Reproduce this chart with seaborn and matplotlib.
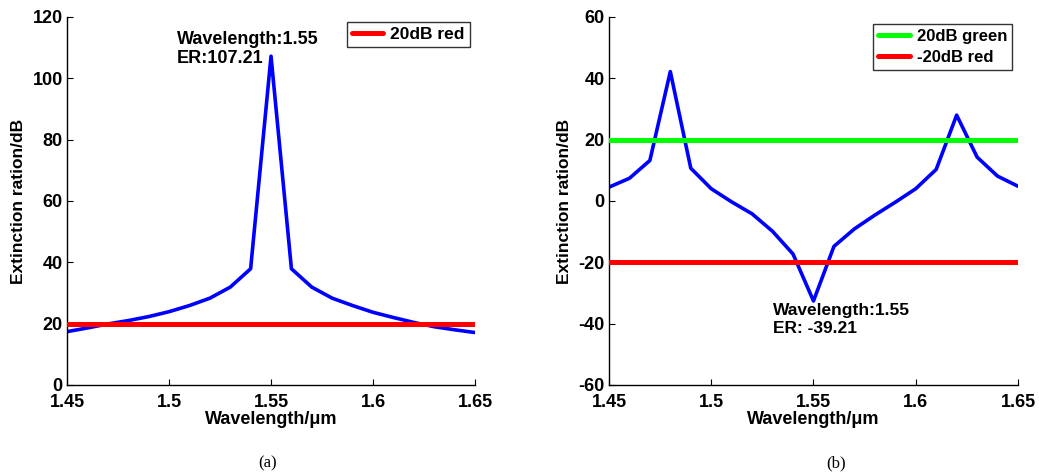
import numpy as np
import pandas as pd
import matplotlib
matplotlib.use("Agg")
import matplotlib.pyplot as plt
import seaborn as sns

sns.set_theme(style="white")
plt.rcParams['font.family'] = ['Liberation Sans', 'DejaVu Sans']
plt.rcParams['font.weight'] = 'bold'
plt.rcParams['text.color'] = 'black'
plt.rcParams['axes.labelcolor'] = 'black'
plt.rcParams['xtick.color'] = 'black'
plt.rcParams['ytick.color'] = 'black'

wavelength = [1.45, 1.46, 1.47, 1.48, 1.49, 1.50, 1.51, 1.52, 1.53, 1.54, 1.55,
              1.56, 1.57, 1.58, 1.59, 1.60, 1.61, 1.62, 1.63, 1.64, 1.65]
er_a = [17.4, 18.6, 19.9, 21.0, 22.3, 23.9, 25.9, 28.3, 31.9, 37.9, 107.21,
        37.9, 31.9, 28.3, 25.9, 23.7, 22.0, 20.4, 19.0, 18.0, 17.1]
er_b = [4.5, 7.4, 13.2, 42.2, 10.7, 4.0, -0.3, -4.2, -9.9, -17.3, -32.6,
        -14.8, -9.1, -4.6, -0.4, 4.0, 10.3, 28.0, 14.3, 8.1, 4.8]
thr_a = [20]
thr_b = [20, -20]
labels_a = ['20dB red']
labels_b = ['20dB green', '-20dB red']
xticks = [1.45, 1.5, 1.55, 1.6, 1.65]
xticklabels = ['1.45', '1.5', '1.55', '1.6', '1.65']
yticks_a = [0, 20, 40, 60, 80, 100, 120]
yticks_b = [-60, -40, -20, 0, 20, 40, 60]

df_a = pd.DataFrame({'wl': wavelength, 'er': er_a})
df_b = pd.DataFrame({'wl': wavelength, 'er': er_b})

fig = plt.figure(figsize=(10.39, 4.76), dpi=100)
ax1 = fig.add_axes([0.0645, 0.1912, 0.3927, 0.7731])
ax2 = fig.add_axes([0.5861, 0.1912, 0.3937, 0.7731])

def style(ax, yticks, ylim):
    ax.set_xlim(1.45, 1.65)
    ax.set_ylim(*ylim)
    ax.set_xticks(xticks)
    ax.set_xticklabels(xticklabels)
    ax.set_yticks(yticks)
    ax.set_yticklabels([str(v) for v in yticks])
    for s in ['top', 'right']:
        ax.spines[s].set_visible(False)
    for s in ['left', 'bottom']:
        ax.spines[s].set_color('black')
        ax.spines[s].set_linewidth(1.0)
    ax.tick_params(axis='both', direction='in', length=4, width=0.8,
                   labelsize=13, colors='black',
                   bottom=True, left=True)
    ax.tick_params(axis='x', pad=6.5)
    ax.tick_params(axis='y', pad=3)
    for lab in ax.get_xticklabels() + ax.get_yticklabels():
        lab.set_fontweight('bold')
    ax.set_xlabel('Wavelength/μm', fontsize=13, fontweight='bold', labelpad=0, color='black')
    ax.set_ylabel('Extinction ration/dB', fontsize=12.5, fontweight='bold', labelpad=4.5,
                  color='black')
    ax.grid(False)

# (a)
ax1.axhline(thr_a[0], color='#ff0000', lw=3.6, label=labels_a[0], zorder=3)
sns.lineplot(data=df_a, x='wl', y='er', ax=ax1, color='#0000ff', lw=2.6, zorder=2)
style(ax1, yticks_a, (0, 120))
ax1.text(1.5039, 115.5, 'Wavelength:1.55\nER:107.21', fontsize=13, fontweight='bold',
         ha='left', va='top', linespacing=1.15, color='black')
h, l = ax1.get_legend_handles_labels()
leg1 = ax1.legend(h[:1], labels_a, loc='upper right', bbox_to_anchor=(0.987, 0.987),
                  prop={'weight': 'bold', 'size': 12.5}, frameon=True, fancybox=False,
                  handlelength=1.8, borderpad=0.3, handletextpad=0.4, borderaxespad=0,
                  labelcolor='black')
leg1.get_frame().set_edgecolor('black')
leg1.get_frame().set_linewidth(1.0)

# (b)
ax2.axhline(thr_b[0], color='#00ff00', lw=3.6, label=labels_b[0], zorder=3)
ax2.axhline(thr_b[1], color='#ff0000', lw=3.6, label=labels_b[1], zorder=3)
sns.lineplot(data=df_b, x='wl', y='er', ax=ax2, color='#0000ff', lw=2.6, zorder=2)
style(ax2, yticks_b, (-60, 60))
ax2.text(1.5302, -33.2, 'Wavelength:1.55\nER: -39.21', fontsize=12.5, fontweight='bold',
         ha='left', va='top', linespacing=1.25, color='black')
h, l = ax2.get_legend_handles_labels()
leg2 = ax2.legend(h[:2], labels_b, loc='upper right', bbox_to_anchor=(0.985, 0.981),
                  prop={'weight': 'bold', 'size': 12}, frameon=True, fancybox=False,
                  handlelength=1.9, borderpad=0.3, handletextpad=0.4, borderaxespad=0,
                  labelspacing=0.35, labelcolor='black')
leg2.get_frame().set_edgecolor('black')
leg2.get_frame().set_linewidth(1.0)

fig.text(268 / 1039, 1 - 463 / 476, '(a)', family='Liberation Serif', fontsize=12,
         fontweight='normal', ha='center', va='center', color='black')
fig.text(836 / 1039, 1 - 463 / 476, '(b)', family='Liberation Serif', fontsize=12,
         fontweight='normal', ha='center', va='center', color='black')

fig.savefig('out.png', dpi=100)
